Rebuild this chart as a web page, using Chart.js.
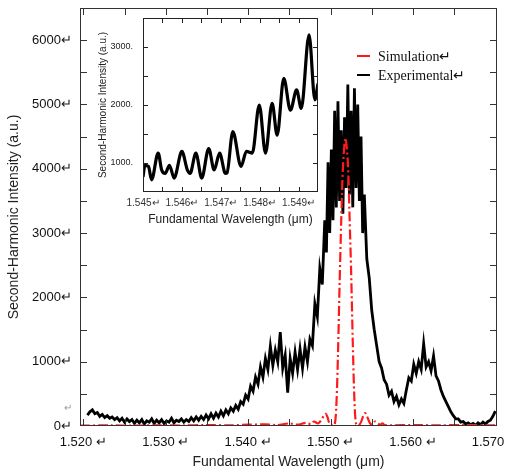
<!DOCTYPE html>
<html>
<head>
<meta charset="utf-8">
<script src="https://cdn.jsdelivr.net/npm/chart.js@4.4.1/dist/chart.umd.min.js"></script>
<style>
html, body { margin: 0; padding: 0; background: #fff; }
#wrap { position: relative; width: 505px; height: 471px; }
#main { position: absolute; left: 0; top: 0; }
#inset { position: absolute; left: 95px; top: 5px; }
</style>
</head>
<body>
<div id="wrap">
<canvas id="main" width="505" height="471"></canvas>
<canvas id="inset" width="235" height="230"></canvas>
</div>
<script>
// experimental SH spectrum (main plot)
const expWl = [
  1.5205,1.5208,1.5211,1.5214,1.5217,1.5220,1.5223,1.5226,1.5229,1.5232,
  1.5235,1.5238,1.5241,1.5244,1.5247,1.5250,1.5253,1.5256,1.5259,1.5262,
  1.5265,1.5268,1.5271,1.5274,1.5277,1.5280,1.5283,1.5286,1.5289,1.5292,
  1.5295,1.5298,1.5301,1.5304,1.5307,1.5310,1.5313,1.5316,1.5319,1.5322,
  1.5325,1.5328,1.5331,1.5334,1.5337,1.5340,1.5343,1.5346,1.5349,1.5352,
  1.5355,1.5358,1.5361,1.5364,1.5367,1.5370,1.5373,1.5376,1.5379,1.5382,
  1.5385,1.5388,1.5391,1.5394,1.5397,1.5400,1.5403,1.5406,1.5409,1.5412,
  1.5415,1.5418,1.5421,1.5424,1.5427,1.5430,1.5433,1.5436,1.5439,1.5442,
  1.5445,1.5448,1.5451,1.5454,1.5457,1.5460,1.5463,1.5466,1.5469,1.5472,
  1.5475,1.5478,1.5481,1.5484,1.5487,1.5490,1.5493,1.5495,1.5497,1.5499,
  1.5501,1.5503,1.5505,1.5507,1.5509,1.5511,1.5513,1.5515,1.5517,1.5519,
  1.5521,1.5523,1.5525,1.5527,1.5529,1.5531,1.5533,1.5535,1.5537,1.5539,
  1.5541,1.5544,1.5547,1.5550,1.5553,1.5556,1.5559,1.5562,
  1.5565,1.5568,1.5571,1.5574,1.5577,1.5580,1.5583,1.5586,1.5589,1.5592,
  1.5595,1.5598,1.5601,1.5604,1.5607,1.5610,1.5613,1.5616,1.5619,1.5622,
  1.5625,1.5628,1.5631,1.5634,1.5637,1.5640,1.5643,1.5646,1.5649,1.5652,
  1.5655,1.5658,1.5661,1.5664,1.5667,1.5670,1.5673,1.5676,1.5679,1.5682,
  1.5685,1.5688,1.5691,1.5694,1.5697,1.5700
];
const expInt = [
  170,220,250,190,210,150,180,130,160,120,
  140,100,130,80,120,60,110,70,100,40,
  90,50,100,30,80,60,110,40,90,50,
  100,40,80,60,120,50,90,70,110,60,
  100,70,130,80,140,90,150,100,170,110,
  190,120,200,140,230,160,250,190,280,230,
  320,260,380,340,480,420,620,540,760,650,
  920,760,1050,880,1240,940,1180,1000,1460,900,
  1100,520,1050,820,1150,880,1200,900,1230,1000,
  1350,1250,1900,1700,2450,2200,3200,2700,4100,3000,
  4300,3200,4900,3400,5050,3500,4600,3300,4800,3700,
  5310,3600,4900,3400,5250,3700,5000,3500,4500,3000,
  3600,2600,2300,1800,1500,1250,1000,900,
  720,650,480,540,380,460,330,420,350,560,
  750,700,960,820,1000,880,1280,920,1000,860,
  1090,780,700,560,460,380,300,220,160,110,
  110,60,70,30,50,20,40,10,50,20,
  60,30,70,90,150,230
];

// simulated SH spectrum
const simWl = [
  1.5196,1.5230,1.5260,1.5290,1.5320,1.5350,1.5380,1.5400,1.5420,1.5435,
  1.5450,1.5460,1.5470,1.5476,1.5480,1.5485,1.5490,1.5492,1.5494,1.5496,
  1.5499,1.5502,1.5505,1.5507,1.5509,1.5511,1.5513,1.5515,1.5518,1.5521,
  1.5523,1.5525,1.5527,1.5529,1.5531,1.5534,1.5537,1.5540,1.5542,1.5544,
  1.5548,1.5551,1.5554,1.5557,1.5560,1.5563,1.5566,1.5575,1.5600,1.5630,
  1.5660,1.5690,1.5705
];
const simInt = [
  5,10,5,12,8,15,10,20,25,15,
  40,20,50,30,70,40,120,170,190,150,
  30,10,20,300,1100,2200,3200,4000,4480,4100,
  3300,2400,1300,400,30,10,60,170,200,160,
  40,20,70,40,20,40,15,10,15,10,
  15,10,10
];

// inset: zoom of the experimental curve
const insetWl = [
  1.5450,1.54505,1.54514,1.54522,1.54539,1.54548,1.54557,1.54568,1.54580,1.54600,
  1.54614,1.54621,1.54636,1.54651,1.54669,1.54683,1.54697,1.54712,1.54716,1.54731,
  1.54752,1.54766,1.54781,1.54799,1.54815,1.54832,1.54845,1.54862,1.54879,1.54895,
  1.54907,1.54927,1.54942,1.54950
];
const insetInt = [
  760,960,940,710,1170,880,820,960,740,1200,
  880,820,1170,740,1250,880,1170,820,830,1540,
  940,1200,1170,2000,1170,2030,1480,2460,1910,2260,
  1940,3210,2090,2370
];

// tick positions
const mainXTicks = [1.520,1.525,1.530,1.535,1.540,1.545,1.550,1.555,1.560,1.565,1.570];
const mainYTicks = [0,500,1000,1500,2000,2500,3000,3500,4000,4500,5000,5500,6000];
const insetXTicks = [1.545,1.5455,1.546,1.5465,1.547,1.5475,1.548,1.5485,1.549];
const insetYTicks = [1000,1500,2000,2500,3000];

const legendItems = ['Simulation\u21B5', 'Experimental\u21B5'];

const SANS = "Arial, 'Liberation Sans', sans-serif";
const SERIF = "'Times New Roman', 'Liberation Serif', serif";

const pairs = (xs, ys) => xs.map((x, i) => ({ x: x, y: ys[i] }));

// box frame with inward tick marks on all four sides
const boxTicks = {
  id: 'boxTicks',
  afterDatasetsDraw(chart, args, opts) {
    const { ctx, chartArea: a, scales: { x, y } } = chart;
    ctx.save();
    ctx.strokeStyle = opts.color;
    ctx.lineWidth = 1;
    ctx.strokeRect(a.left + 0.5, a.top + 0.5, a.right - a.left - 1, a.bottom - a.top - 1);
    ctx.beginPath();
    x.ticks.forEach(t => {
      const p = Math.round(x.getPixelForValue(t.value)) + 0.5;
      if (p <= a.left + 2 || p >= a.right - 2) return;
      ctx.moveTo(p, a.bottom); ctx.lineTo(p, a.bottom - opts.len);
      ctx.moveTo(p, a.top); ctx.lineTo(p, a.top + opts.len);
    });
    y.ticks.forEach(t => {
      const p = Math.round(y.getPixelForValue(t.value)) + 0.5;
      if (p <= a.top + 2 || p >= a.bottom - 2) return;
      ctx.moveTo(a.left, p); ctx.lineTo(a.left + opts.len, p);
      ctx.moveTo(a.right, p); ctx.lineTo(a.right - opts.len, p);
    });
    ctx.stroke();
    ctx.restore();
  }
};

const lineLegend = {
  id: 'lineLegend',
  afterDraw(chart) {
    const { ctx } = chart;
    ctx.save();
    ctx.font = '14px ' + SERIF;
    ctx.textBaseline = 'middle';
    chart.data.datasets.forEach((ds, i) => {
      const yy = 56 + i * 19;
      ctx.strokeStyle = ds.borderColor;
      ctx.lineWidth = 2;
      ctx.beginPath();
      ctx.moveTo(357, yy); ctx.lineTo(370, yy);
      ctx.stroke();
      ctx.fillStyle = '#111';
      ctx.fillText(legendItems[i], 378, yy + 1);
    });
    // stray paragraph mark left of the axis
    ctx.font = '10px ' + SANS;
    ctx.fillStyle = '#999';
    ctx.fillText('\u21B5', 64, 408);
    ctx.restore();
  }
};

// keep the plot box where the reference has it, labels may overhang
const noSidePad = s => { s.paddingLeft = 0; s.paddingRight = 0; };
const noEndPad = s => { s.paddingTop = 0; s.paddingBottom = 0; };
const noGrid = { display: false, drawTicks: false, tickLength: 0 };

new Chart(document.getElementById('main'), {
  type: 'line',
  data: {
    datasets: [
      {
        label: 'Simulation',
        data: pairs(simWl, simInt),
        borderColor: '#ff1a1a',
        borderWidth: 2.2,
        borderDash: [10, 3, 2, 3],
        pointRadius: 0,
        tension: 0.3
      },
      {
        label: 'Experimental',
        data: pairs(expWl, expInt),
        borderColor: '#000',
        borderWidth: 2.8,
        pointRadius: 0,
        tension: 0
      }
    ]
  },
  options: {
    responsive: false,
    animation: false,
    devicePixelRatio: 1,
    layout: { padding: { left: 0, top: 8, right: 8, bottom: 0 } },
    plugins: {
      legend: { display: false },
      tooltip: { enabled: false },
      boxTicks: { color: '#333', len: 7 }
    },
    scales: {
      x: {
        type: 'linear',
        min: 1.5196,
        max: 1.5702,
        grid: noGrid,
        border: { display: false },
        afterBuildTicks: s => { s.ticks = mainXTicks.map(v => ({ value: v })); },
        afterFit: s => { s.height = 45; noSidePad(s); },
        ticks: {
          autoSkip: false,
          maxRotation: 0,
          padding: 9,
          color: '#111',
          font: { family: SANS, size: 13 },
          callback: v => (Math.round(v * 1000) % 10 === 0 ? v.toFixed(3) + ' \u21B5' : '')
        },
        title: {
          display: true,
          text: 'Fundamental Wavelength (\u03BCm)',
          color: '#222',
          font: { family: SANS, size: 14 },
          padding: { top: 0, bottom: 0 }
        }
      },
      y: {
        min: 0,
        max: 6500,
        grid: noGrid,
        border: { display: false },
        afterBuildTicks: s => { s.ticks = mainYTicks.map(v => ({ value: v })); },
        afterFit: s => { s.width = 80; noEndPad(s); },
        ticks: {
          autoSkip: false,
          padding: 8,
          color: '#111',
          font: { family: SANS, size: 13 },
          callback: v => (v % 1000 === 0 ? v + '\u21B5' : '')
        },
        title: {
          display: true,
          text: 'Second-Harmonic Intensity (a.u.)',
          color: '#222',
          font: { family: SANS, size: 14 },
          padding: { top: 6, bottom: 0 }
        }
      }
    }
  },
  plugins: [boxTicks, lineLegend]
});

new Chart(document.getElementById('inset'), {
  type: 'line',
  data: {
    datasets: [{
      label: 'Experimental',
      data: pairs(insetWl, insetInt),
      borderColor: '#000',
      borderWidth: 3.2,
      pointRadius: 0,
      cubicInterpolationMode: 'monotone'
    }]
  },
  options: {
    responsive: false,
    animation: false,
    devicePixelRatio: 1,
    layout: { padding: { left: 0, top: 13, right: 12, bottom: 0 } },
    plugins: {
      legend: { display: false },
      tooltip: { enabled: false },
      boxTicks: { color: '#222', len: 5 }
    },
    scales: {
      x: {
        type: 'linear',
        min: 1.545,
        max: 1.5495,
        grid: noGrid,
        border: { display: false },
        afterBuildTicks: s => { s.ticks = insetXTicks.map(v => ({ value: v })); },
        afterFit: s => { s.height = 43; noSidePad(s); },
        ticks: {
          autoSkip: false,
          maxRotation: 0,
          padding: 5,
          color: '#333',
          font: { family: SANS, size: 10 },
          callback: v => (Math.round(v * 10000) % 10 === 0 ? v.toFixed(3) + '\u21B5' : '')
        },
        title: {
          display: true,
          text: 'Fundamental Wavelength (\u03BCm)',
          color: '#222',
          font: { family: SANS, size: 12 },
          padding: { top: 0, bottom: 8 }
        }
      },
      y: {
        min: 500,
        max: 3500,
        grid: noGrid,
        border: { display: false },
        afterBuildTicks: s => { s.ticks = insetYTicks.map(v => ({ value: v })); },
        afterFit: s => { s.width = 48; noEndPad(s); },
        ticks: {
          autoSkip: false,
          padding: 10,
          color: '#222',
          font: { family: SANS, size: 9 },
          callback: v => (v % 1000 === 0 ? v + '.' : '')
        },
        title: {
          display: true,
          text: 'Second-Harmonic Intensity (a.u.)',
          color: '#222',
          font: { family: SANS, size: 10 },
          padding: { top: 2, bottom: 0 }
        }
      }
    }
  },
  plugins: [boxTicks]
});
</script>
</body>
</html>
